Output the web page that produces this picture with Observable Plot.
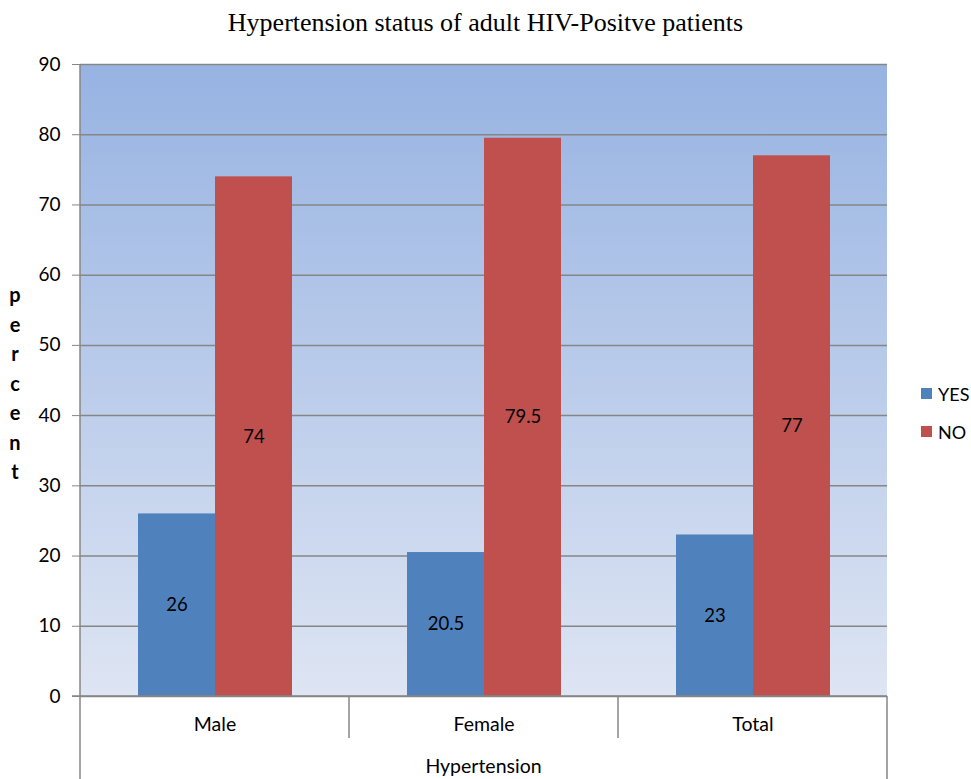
<!DOCTYPE html>
<html><head><meta charset="utf-8">
<script src="https://cdn.jsdelivr.net/npm/d3@7"></script>
<script src="https://cdn.jsdelivr.net/npm/@observablehq/plot@0.6"></script>
<style>
body{margin:0;background:#fff;}
#wrap{position:relative;width:971px;height:779px;font-family:Lato,"Open Sans",sans-serif;overflow:hidden;}
#title{position:absolute;left:0;top:0;width:971px;height:40px;text-align:center;font-family:"Liberation Serif","Times New Roman",serif;font-size:26px;line-height:46px;color:#000;}
#chart{position:absolute;left:0;top:40px;}
#legend{position:absolute;left:921px;top:384px;font-size:18px;color:#000;}
#legend .row{display:flex;align-items:center;height:19px;margin-bottom:19px;}
#legend .sw{width:11px;height:11px;margin-right:6px;}
</style>
</head><body>
<div id="wrap">
  <div id="title">Hypertension status of adult HIV-Positve patients</div>
  <div id="chart"></div>
  <div id="legend"></div>
</div>
<script>
const categories = ["Male", "Female", "Total"];
const series = ["YES", "NO"];
const yesValues = [26, 20.5, 23];
const noValues = [74, 79.5, 77];
const yTicks = [0, 10, 20, 30, 40, 50, 60, 70, 80, 90];
const seriesColors = ["#4F81BD", "#C0504D"];
const xAxisTitle = "Hypertension";
const yAxisTitle = "percent";

const data = [];
categories.forEach((c, i) => {
  data.push({category: c, series: "YES", value: yesValues[i]});
  data.push({category: c, series: "NO", value: noValues[i]});
});

const W = 971, H = 739;
const plot = Plot.plot({
  width: W, height: H,
  marginTop: 24, marginBottom: 83, marginLeft: 80, marginRight: 84,
  style: {fontFamily: "Lato, 'Open Sans', sans-serif", background: "transparent", overflow: "visible"},
  fx: {domain: categories, padding: 0, label: null},
  x: {domain: series, paddingInner: 0, paddingOuter: 0.745, axis: null},
  y: {domain: [0, 90], label: null},
  color: {domain: series, range: seriesColors},
  marks: [
    Plot.gridY(yTicks, {stroke: "#868686", strokeOpacity: 1, strokeWidth: 1.5}),
    Plot.barY(data, {fx: "category", x: "series", y: "value", fill: "series"}),
    Plot.text(data, {fx: "category", x: "series", y: d => d.value / 2, text: d => String(d.value), fill: "#000", fontSize: 18.5}),
    Plot.axisY({ticks: yTicks, tickSize: 8, tickPadding: 12, fontSize: 19, stroke: "#868686", fill: "#000", label: null}),
    Plot.axisFx({anchor: "bottom", tickSize: 0, tickPadding: 21, fontSize: 19.5, fill: "#000", label: null})
  ]
});
document.getElementById("chart").appendChild(plot);

const svg = d3.select(plot);
const defs = svg.insert("defs", ":first-child");
const g = defs.append("linearGradient").attr("id", "bgGrad").attr("x1", 0).attr("y1", 0).attr("x2", 0).attr("y2", 1);
g.append("stop").attr("offset", "0%").attr("stop-color", "#97B3E2");
g.append("stop").attr("offset", "100%").attr("stop-color", "#DEE5F3");

const yS = plot.scale("y"), fxS = plot.scale("fx");
const y0 = yS.apply(0), yTop = yS.apply(90);
const bw = fxS.bandwidth;
const left = fxS.apply(categories[0]);
const right = fxS.apply(categories[categories.length - 1]) + bw;
svg.insert("rect", "defs + *").attr("x", left).attr("y", yTop).attr("width", right - left).attr("height", y0 - yTop).attr("fill", "url(#bgGrad)");
const deco = svg.append("g").attr("stroke", "#868686").attr("stroke-width", 1.5).attr("fill", "none");
deco.append("line").attr("x1", left).attr("x2", left).attr("y1", yTop).attr("y2", H);
deco.append("line").attr("x1", right).attr("x2", right).attr("y1", y0).attr("y2", H);
deco.append("line").attr("x1", left - 8).attr("x2", right).attr("y1", y0).attr("y2", y0);
categories.slice(1).forEach(c => {
  const x = fxS.apply(c);
  deco.append("line").attr("x1", x).attr("x2", x).attr("y1", y0).attr("y2", y0 + 42);
});
svg.append("text").attr("x", (left + right) / 2).attr("y", H - 6)
  .attr("text-anchor", "middle").attr("font-size", 19.5).attr("fill", "#000").text(xAxisTitle);
const yt = svg.append("text").attr("font-size", 20).attr("font-weight", "bold").attr("fill", "#000").attr("text-anchor", "middle");
yAxisTitle.split("").forEach((ch, i) => {
  yt.append("tspan").attr("x", 15).attr("y", 262 + i * 29.5).text(ch);
});

const legend = d3.select("#legend");
series.forEach((s, i) => {
  const row = legend.append("div").attr("class", "row");
  row.append("div").attr("class", "sw").style("background", seriesColors[i]);
  row.append("span").text(s);
});
</script>
</body></html>
